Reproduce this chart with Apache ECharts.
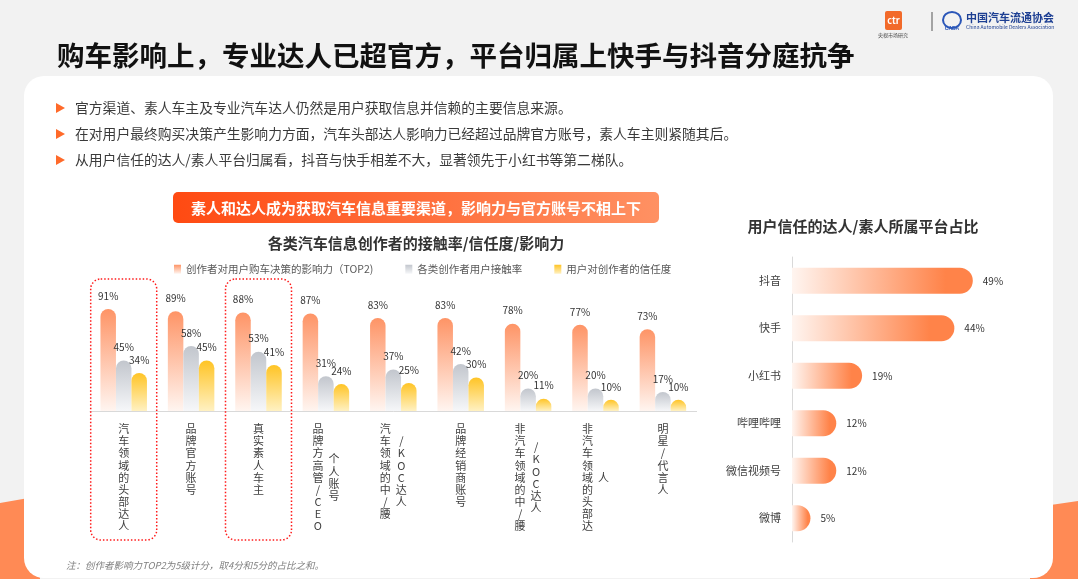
<!DOCTYPE html>
<html><head><meta charset="utf-8">
<script src="https://cdn.jsdelivr.net/npm/echarts@6/dist/echarts.min.js"></script>
<style>html,body{margin:0;padding:0;background:#f2f2f2;}#c{width:1078px;height:579px;}</style>
</head><body><div id="c"></div>
<script>
// ---- data ----
const labelCols = [
  ['汽车领域的头部达人'],
  ['品牌官方账号'],
  ['真实素人车主'],
  ['品牌方高管/CEO', '个人账号'],
  ['汽车领域的中/腰', '/KOC达人'],
  ['品牌经销商账号'],
  ['非汽车领域的中/腰', '/KOC达人'],
  ['非汽车领域的头部达', '人'],
  ['明星/代言人']
];
const categories = labelCols.map(c => c.join(''));
const seriesNames = ['创作者对用户购车决策的影响力（TOP2)', '各类创作者用户接触率', '用户对创作者的信任度'];
const influence = [91, 89, 88, 87, 83, 83, 78, 77, 73];
const reach = [45, 58, 53, 31, 37, 42, 20, 20, 17];
const trust = [34, 45, 41, 24, 25, 30, 11, 10, 10];
const highlighted = ['汽车领域的头部达人', '真实素人车主'];
const platforms = ['抖音', '快手', '小红书', '哔哩哔哩', '微信视频号', '微博'];
const platformShare = [49, 44, 19, 12, 12, 5];
const bullets = [
  '官方渠道、素人车主及专业汽车达人仍然是用户获取信息并信赖的主要信息来源。',
  '在对用户最终购买决策产生影响力方面，汽车头部达人影响力已经超过品牌官方账号，素人车主则紧随其后。',
  '从用户信任的达人/素人平台归属看，抖音与快手相差不大，显著领先于小红书等第二梯队。'
];

// ---- chart ----
const FF = '"Noto Sans CJK SC","Noto Sans",sans-serif';
const chart = echarts.init(document.getElementById('c'));
const LG = echarts.graphic.LinearGradient;
const ROW = 12.1;

const rich = {
  c: {width: 16, align: 'center', lineHeight: ROW, fontSize: 11, color: '#404040', fontFamily: FF},
  l: {width: 16, align: 'center', lineHeight: ROW, fontSize: 11, color: '#404040', fontFamily: FF},
  r: {width: 16, align: 'center', lineHeight: ROW, fontSize: 11, color: '#404040', fontFamily: FF}
};
labelCols.forEach((cols, i) => {
  if (cols.length > 1) {
    const off = (Array.from(cols[0]).length - Array.from(cols[1]).length) * ROW / 2;
    rich['sp' + i] = {lineHeight: off, height: off, fontSize: 1};
  }
});

function col1Fmt(v, i) {
  const cols = labelCols[i];
  const chars = Array.from(cols[0]);
  if (cols.length > 1) return chars.map(ch => '{l|' + ch + '}{r| }').join('\n');
  return chars.map(ch => '{c|' + ch + '}').join('\n');
}
function col2Fmt(v, i) {
  const cols = labelCols[i];
  if (cols.length < 2) return '';
  return '{sp' + i + '| }\n' + Array.from(cols[1]).map(ch => '{r| }{l|' + ch + '}').join('\n');
}

const barColors = [
  [[0, '#fe9466'], [1, '#fff5f0']],
  [[0, '#c2c6cd'], [1, '#f6f7f9']],
  [[0, '#ffc425'], [1, '#fff1c2']]
];
const barData = [influence, reach, trust];

const graphics = [
  {id: 'bg', type: 'rect', z: -5, shape: {x: 0, y: 0, width: 1078, height: 579}, style: {fill: '#f2f2f2'}},
  {id: 'o1', type: 'polygon', z: -4, shape: {points: [[0, 503], [40, 496], [40, 579], [0, 579]]}, style: {fill: '#ff8a55'}},
  {id: 'o2', type: 'polygon', z: -4, shape: {points: [[1030, 508], [1078, 501], [1078, 579], [1030, 579]]}, style: {fill: '#ff8a55'}},
  {id: 'card', type: 'rect', z: -3, shape: {x: 24, y: 76, width: 1029, height: 502, r: 20}, style: {fill: '#ffffff'}},
  {id: 'title', type: 'text', z: 1, style: {x: 57, y: 56, text: '购车影响上，专业达人已超官方，平台归属上快手与抖音分庭抗争', fontSize: 27.5, fontWeight: 'bold', fontFamily: FF, fill: '#111111', textVerticalAlign: 'middle'}},
  // logos
  {id: 'ctr', type: 'rect', z: 1, shape: {x: 885, y: 11, width: 17, height: 19, r: 2}, style: {fill: '#f26a2a'}},
  {id: 'ctrt', type: 'text', z: 2, style: {x: 893.5, y: 21, text: 'ctr', fontSize: 9, fontWeight: 'bold', fill: '#fff', fontFamily: FF, textAlign: 'center', textVerticalAlign: 'middle'}},
  {id: 'ctrs', type: 'text', z: 2, style: {x: 893, y: 35, text: '央视市场研究', fontSize: 5, fill: '#444', fontFamily: FF, textAlign: 'center', textVerticalAlign: 'middle'}},
  {id: 'div', type: 'line', z: 1, shape: {x1: 932, y1: 12, x2: 932, y2: 31}, style: {stroke: '#555', lineWidth: 1}},
  {id: 'emb', type: 'ellipse', z: 1, shape: {cx: 952, cy: 20, rx: 9, ry: 8}, style: {fill: 'none', stroke: '#2a56b8', lineWidth: 2}},
  {id: 'emb2', type: 'text', z: 1, style: {x: 952, y: 29, text: 'CADA', fontSize: 5, fontWeight: 'bold', fill: '#2a56b8', textAlign: 'center', textVerticalAlign: 'middle'}},
  {id: 'cada', type: 'text', z: 1, style: {x: 966, y: 18, text: '中国汽车流通协会', fontSize: 11, fontWeight: 'bold', fill: '#1d3f93', fontFamily: FF, textVerticalAlign: 'middle'}},
  {id: 'cada2', type: 'text', z: 1, style: {x: 966, y: 27, text: 'China Automobile Dealers Association', fontSize: 5, fill: '#1d3f93', fontFamily: FF, textVerticalAlign: 'middle'}},
  // banner
  {id: 'ban', type: 'rect', z: 1, shape: {x: 173, y: 192, width: 486, height: 31, r: 5}, style: {fill: new LG(0, 0, 1, 0, [{offset: 0, color: '#ff4a12'}, {offset: 1, color: '#ff9163'}])}},
  {id: 'bant', type: 'text', z: 2, style: {x: 416, y: 208, text: '素人和达人成为获取汽车信息重要渠道，影响力与官方账号不相上下', fontSize: 15, fontWeight: 'bold', fill: '#ffffff', fontFamily: FF, textAlign: 'center', textVerticalAlign: 'middle'}},
  {id: 'ct1', type: 'text', z: 1, style: {x: 416, y: 243, text: '各类汽车信息创作者的接触率/信任度/影响力', fontSize: 15, fontWeight: 'bold', fill: '#333333', fontFamily: FF, textAlign: 'center', textVerticalAlign: 'middle'}},
  {id: 'ct2', type: 'text', z: 1, style: {x: 863, y: 226, text: '用户信任的达人/素人所属平台占比', fontSize: 15, fontWeight: 'bold', fill: '#333333', fontFamily: FF, textAlign: 'center', textVerticalAlign: 'middle'}},
  {id: 'note', type: 'text', z: 1, style: {x: 66, y: 565, text: '注：创作者影响力TOP2为5级计分，取4分和5分的占比之和。', fontSize: 9.5, fontStyle: 'italic', fill: '#7f7f7f', fontFamily: FF, textVerticalAlign: 'middle'}}
];
bullets.forEach((t, i) => {
  const y = 108 + i * 26;
  graphics.push({id: 'tri' + i, type: 'polygon', z: 1, shape: {points: [[56, y - 5], [65, y], [56, y + 5]]}, style: {fill: '#ff6a2a'}});
  graphics.push({id: 'bt' + i, type: 'text', z: 1, style: {x: 75, y: y, text: t, fontSize: 13.8, fill: '#3a3a3a', fontFamily: FF, textVerticalAlign: 'middle'}});
});

const option = {
  animation: false,
  textStyle: {fontFamily: FF},
  graphic: {elements: graphics},
  legend: {
    left: 169, top: 259, itemWidth: 7, itemHeight: 9, itemGap: 32, icon: 'rect',
    data: seriesNames,
    textStyle: {fontSize: 10.5, color: '#595959', fontFamily: FF}
  },
  grid: [
    {left: 90, top: 299, width: 606.6, height: 112},
    {left: 792, top: 257, width: 221.4, height: 285}
  ],
  xAxis: [
    {type: 'category', gridIndex: 0, data: categories,
      axisLine: {lineStyle: {color: '#d9d9d9'}}, axisTick: {show: false},
      axisLabel: {interval: 0, margin: 12, formatter: col1Fmt, rich: rich}},
    {type: 'category', gridIndex: 0, data: categories, position: 'bottom', offset: 0,
      axisLine: {show: false}, axisTick: {show: false},
      axisLabel: {interval: 0, margin: 12, formatter: col2Fmt, rich: rich}},
    {type: 'value', gridIndex: 1, min: 0, max: 60, show: false}
  ],
  yAxis: [
    {type: 'value', gridIndex: 0, min: 0, max: 100, show: false},
    {type: 'category', gridIndex: 1, data: platforms, inverse: true,
      axisLine: {lineStyle: {color: '#d9d9d9'}}, axisTick: {show: false},
      axisLabel: {margin: 11, fontSize: 11, color: '#404040', fontFamily: FF}}
  ],
  series: barData.map((d, k) => ({
    name: seriesNames[k], type: 'bar', xAxisIndex: 0, yAxisIndex: 0,
    data: d, barWidth: 15.5, barGap: '0%',
    itemStyle: {borderRadius: [8, 8, 0, 0], color: new LG(0, 0, 0, 1, barColors[k].map(s => ({offset: s[0], color: s[1]})))},
    label: {show: true, position: 'top', distance: 8, formatter: '{c}%', fontSize: 10, color: '#333', fontFamily: FF}
  })).concat([{
    name: '平台', type: 'bar', xAxisIndex: 2, yAxisIndex: 1, data: platformShare, barWidth: 26,
    itemStyle: {borderRadius: [0, 13, 13, 0], color: new LG(0, 0, 1, 0, [{offset: 0, color: '#fff5f0'}, {offset: 0.85, color: '#ff8349'}, {offset: 1, color: '#ff8349'}])},
    label: {show: true, position: 'right', distance: 10, formatter: '{c}%', fontSize: 10, color: '#333', fontFamily: FF}
  }])
};
chart.setOption(option);

// dotted highlight boxes around highlighted categories
const boxes = highlighted.map((name, i) => {
  const cx = chart.convertToPixel({xAxisIndex: 0}, name);
  return {id: 'box' + i, type: 'rect', z: 3, shape: {x: cx - 33, y: 279, width: 66, height: 261, r: 10},
    style: {fill: 'none', stroke: '#ff1a1a', lineWidth: 1.5, lineDash: [1.5, 2]}};
});
chart.setOption({graphic: {elements: boxes}});
</script></body></html>
